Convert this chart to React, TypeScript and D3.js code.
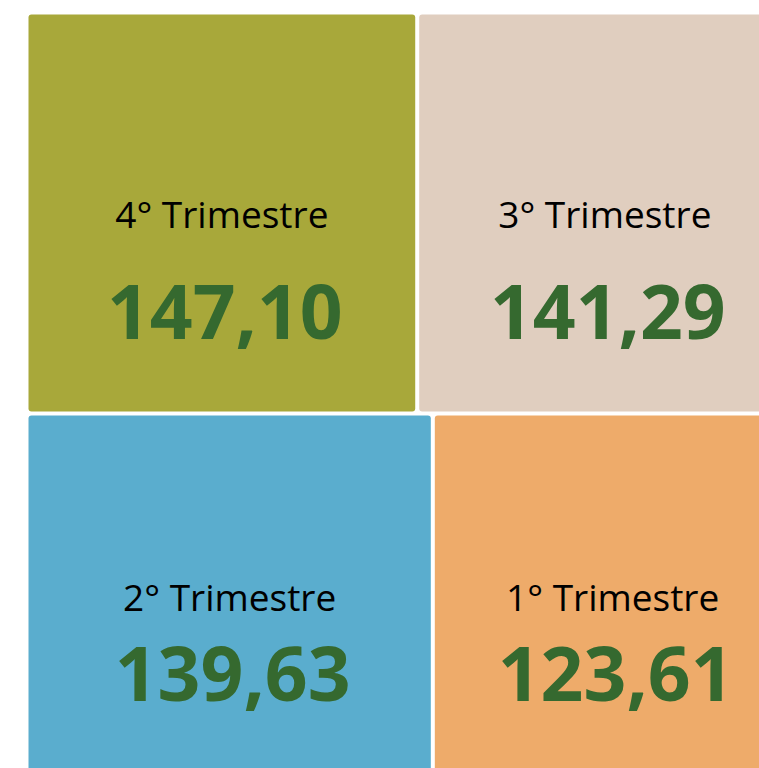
import React from "react";
import * as d3 from "d3";

const categories = ["1° Trimestre", "2° Trimestre", "3° Trimestre", "4° Trimestre"];
const values = [123.61, 139.63, 141.29, 147.1];
const colors = ["#EEAB6A", "#5AADCE", "#E0CEBF", "#A8A83A"];

const W = 759;
const H = 768;
const X0 = 28.5;
const Y0 = 14.5;
const TW = 762;
const TH = 763;

const locale = d3.formatLocale({ decimal: ",", thousands: ".", grouping: [3], currency: ["R$", ""] });
const fmt = locale.format(".2f");

export default function App() {
  const data = categories.map((name, i) => ({ name, value: values[i], color: colors[i] }));
  const root = d3
    .hierarchy({ name: "root", children: data } as any)
    .sum((d: any) => d.value || 0)
    .sort((a, b) => (b.value || 0) - (a.value || 0));
  d3.treemap().tile(d3.treemapSquarify.ratio(1)).size([TW, TH]).paddingInner(4).round(false)(root as any);
  const leaves = root.leaves() as any[];

  return (
    <svg width={W} height={H} style={{ position: "absolute", left: 0, top: 0, background: "#fff" }}>
      <g transform={`translate(${X0},${Y0})`}>
        {leaves.map((l, i) => {
          const w = l.x1 - l.x0;
          const h = l.y1 - l.y0;
          const cx = (l.x0 + l.x1) / 2;
          const cy = (l.y0 + l.y1) / 2;
          return (
            <g key={i}>
              <rect x={l.x0} y={l.y0} width={w} height={h} rx={3} ry={3} fill={l.data.color} />
              <text
                x={cx}
                y={cy + 15}
                textAnchor="middle"
                fontFamily="'Open Sans', sans-serif"
                fontSize={37}
                fill="#000"
              >
                {l.data.name}
              </text>
              <text
                x={cx + 3}
                y={cy + 0.636 * h - 126}
                textAnchor="middle"
                fontFamily="'Open Sans', sans-serif"
                fontWeight="bold"
                fontSize={75}
                fill="#35692F"
              >
                {fmt(l.data.value)}
              </text>
            </g>
          );
        })}
      </g>
    </svg>
  );
}
